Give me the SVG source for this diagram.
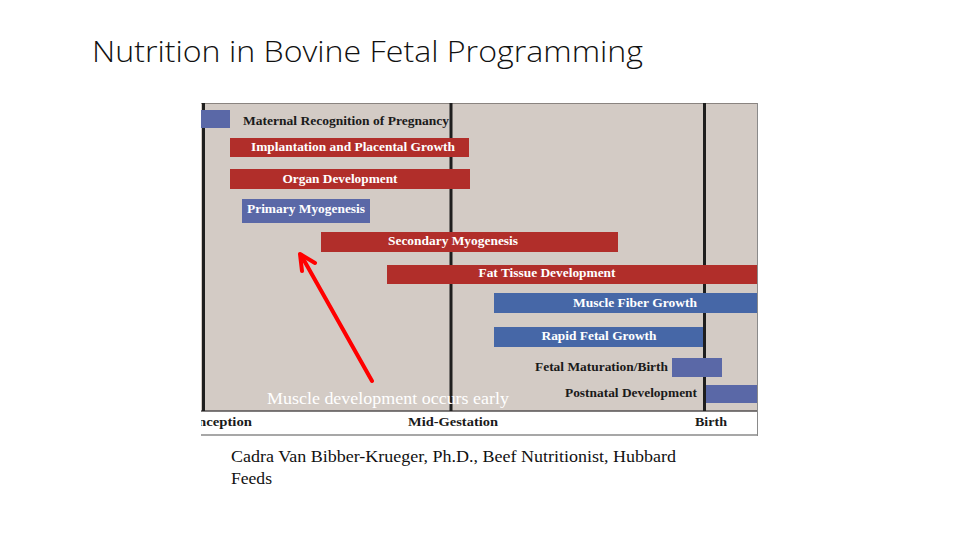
<svg xmlns="http://www.w3.org/2000/svg" width="960" height="540" viewBox="0 0 960 540">
  <style>
    .red { fill: #b12e2a; }
    .blue { fill: #4667a7; }
    .lblue { fill: #5a68a7; }
    .vline { stroke: #1e1e1e; stroke-width: 3; }
    .wt { font-family: "Liberation Serif", "Times New Roman", serif; font-weight: bold; font-size: 12px; fill: #ffffff; }
    .bt { font-family: "Liberation Serif", "Times New Roman", serif; font-weight: bold; font-size: 12px; fill: #1a1a1a; }
    .axis { font-family: "Liberation Serif", "Times New Roman", serif; font-weight: bold; font-size: 13px; fill: #1a1a1a; }
  </style>
  <defs>
    <clipPath id="imgclip"><rect x="201" y="103" width="557" height="333"/></clipPath>
  </defs>
  <rect x="0" y="0" width="960" height="540" fill="#ffffff"/>
  <g id="title">
    <text x="92" y="62" font-family="'Open Sans', 'Liberation Sans', sans-serif" font-weight="300" font-size="29" fill="#111111" textLength="551" lengthAdjust="spacingAndGlyphs">Nutrition in Bovine Fetal Programming</text>
  </g>
  <g id="chart" clip-path="url(#imgclip)">
    <rect x="201" y="103" width="557" height="333" fill="#ffffff"/>
    <rect x="201" y="103" width="556" height="308" fill="#d3cbc5"/>
    <line x1="201" y1="103.5" x2="757" y2="103.5" stroke="#8a8480" stroke-width="1"/>
    <line x1="201" y1="411" x2="757" y2="411" stroke="#555050" stroke-width="1.5"/>
    <line x1="201" y1="435" x2="758" y2="435" stroke="#8a8a8a" stroke-width="1.5"/>
    <line x1="757.5" y1="103" x2="757.5" y2="436" stroke="#8a8a8a" stroke-width="1"/>
    <line class="vline" x1="203.5" y1="103" x2="203.5" y2="411"/>
    <line class="vline" x1="451" y1="103" x2="451" y2="411"/>
    <line class="vline" x1="704.5" y1="103" x2="704.5" y2="411"/>
    <text class="axis" x="252" y="426" text-anchor="end" textLength="72" lengthAdjust="spacingAndGlyphs">Conception</text>
    <text class="axis" x="453" y="426" text-anchor="middle" textLength="90" lengthAdjust="spacingAndGlyphs">Mid-Gestation</text>
    <text class="axis" x="711" y="426" text-anchor="middle" textLength="32" lengthAdjust="spacingAndGlyphs">Birth</text>
  </g>
  <g id="maternal-recognition">
    <rect class="lblue" x="201" y="110" width="29" height="18"/>
    <text class="bt" x="243" y="125" textLength="206" lengthAdjust="spacingAndGlyphs">Maternal Recognition of Pregnancy</text>
  </g>
  <g id="implantation">
    <rect class="red" x="230" y="138" width="239" height="19"/>
    <text class="wt" x="353" y="151" text-anchor="middle" textLength="204" lengthAdjust="spacingAndGlyphs">Implantation and Placental Growth</text>
  </g>
  <g id="organ-development">
    <rect class="red" x="230" y="169" width="240" height="20"/>
    <text class="wt" x="340" y="183" text-anchor="middle" textLength="115" lengthAdjust="spacingAndGlyphs">Organ Development</text>
  </g>
  <g id="primary-myogenesis">
    <rect class="lblue" x="242" y="199" width="128" height="24"/>
    <text class="wt" x="306" y="213" text-anchor="middle" textLength="118" lengthAdjust="spacingAndGlyphs">Primary Myogenesis</text>
  </g>
  <g id="secondary-myogenesis">
    <rect class="red" x="321" y="232" width="297" height="20"/>
    <text class="wt" x="453" y="245" text-anchor="middle" textLength="130" lengthAdjust="spacingAndGlyphs">Secondary Myogenesis</text>
  </g>
  <g id="fat-tissue">
    <rect class="red" x="387" y="265" width="370" height="19"/>
    <text class="wt" x="547" y="277" text-anchor="middle" textLength="137" lengthAdjust="spacingAndGlyphs">Fat Tissue Development</text>
  </g>
  <g id="muscle-fiber-growth">
    <rect class="blue" x="494" y="293" width="263" height="20"/>
    <text class="wt" x="635" y="307" text-anchor="middle" textLength="124" lengthAdjust="spacingAndGlyphs">Muscle Fiber Growth</text>
  </g>
  <g id="rapid-fetal-growth">
    <rect class="blue" x="494" y="327" width="209" height="20"/>
    <text class="wt" x="599" y="340" text-anchor="middle" textLength="115" lengthAdjust="spacingAndGlyphs">Rapid Fetal Growth</text>
  </g>
  <g id="fetal-maturation">
    <rect class="lblue" x="672" y="358" width="50" height="19"/>
    <text class="bt" x="668" y="371" text-anchor="end" textLength="133" lengthAdjust="spacingAndGlyphs">Fetal Maturation/Birth</text>
  </g>
  <g id="postnatal-development">
    <rect class="lblue" x="706" y="385" width="51" height="18"/>
    <text class="bt" x="697" y="397" text-anchor="end" textLength="132" lengthAdjust="spacingAndGlyphs">Postnatal Development</text>
  </g>
  <g id="connectors">
    <line x1="372" y1="381" x2="301" y2="255" stroke="#ff0000" stroke-width="4" stroke-linecap="round"/>
    <polyline points="302,271 300,254 315,263" fill="none" stroke="#ff0000" stroke-width="4" stroke-linecap="round" stroke-linejoin="round"/>
  </g>
  <g id="annotation">
    <text x="267" y="404" font-family="'Liberation Serif', 'Times New Roman', serif" font-size="17" fill="#ffffff" textLength="242" lengthAdjust="spacingAndGlyphs">Muscle development occurs early</text>
  </g>
  <g id="citation">
    <text x="231" y="462" font-family="'Liberation Serif', 'Times New Roman', serif" font-size="16" fill="#111111" textLength="445" lengthAdjust="spacingAndGlyphs">Cadra Van Bibber-Krueger, Ph.D., Beef Nutritionist, Hubbard</text>
    <text x="231" y="484" font-family="'Liberation Serif', 'Times New Roman', serif" font-size="16" fill="#111111" textLength="41" lengthAdjust="spacingAndGlyphs">Feeds</text>
  </g>
</svg>
